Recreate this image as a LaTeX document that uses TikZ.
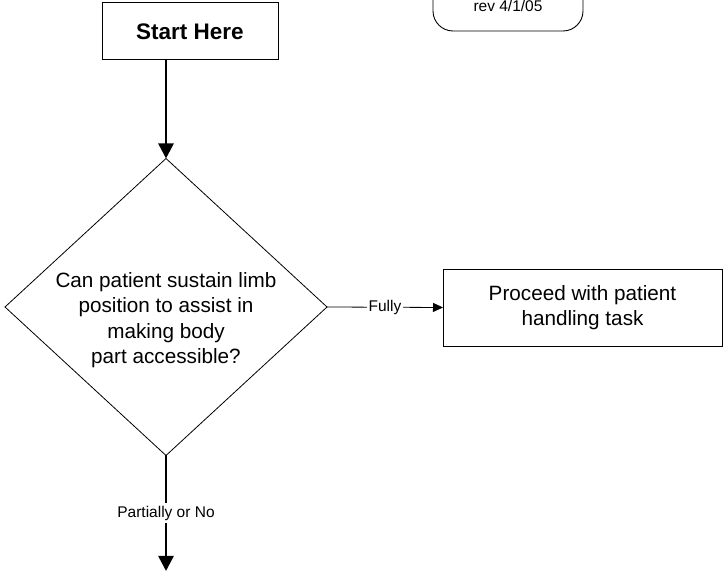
\documentclass[tikz,border=0pt]{standalone}
\usepackage{fontspec}
\setmainfont{Liberation Sans}
\usetikzlibrary{arrows.meta,positioning,shapes.geometric}
\definecolor{flink}{HTML}{000000}
\tikzset{
  box/.style={draw=flink, fill=white, line width=0.9pt, align=center, inner sep=0pt, outer sep=0pt, font=\fontsize{20.7}{25.5}\selectfont},
  startbox/.style={box, line width=1pt, font=\fontsize{22.5}{26}\selectfont\bfseries},
  revbox/.style={draw=flink, rounded corners=20pt, line width=0.9pt, minimum width=150pt, minimum height=51pt},
  dec/.style={diamond, draw=flink, line width=0.8pt, minimum width=322pt, minimum height=297pt, inner sep=0pt, outer sep=0pt},
  lbl/.style={fill=white, inner sep=1.5pt, font=\fontsize{15.5}{18}\selectfont},
  thk/.style={-{Triangle[length=15pt,width=15pt]}, line width=2.6pt, color=flink},
  thn/.style={-{Triangle[length=10pt,width=9pt]}, line width=0.8pt, color=flink},
}

\begin{document}
\begin{tikzpicture}[x=1pt,y=1pt]
  \clip (0,0) rectangle (723,572);
  \node[startbox, minimum width=176pt, minimum height=57pt] (start) at (190,540.5) {Start Here};
  \node[revbox] (rev) at (508,566.5) {};
  \node[lbl, fill=none, anchor=base] (revtxt) at (508,560) {rev 4/1/05};
  \node[dec] (q) at (166,265) {};
  \node[box, draw=none, fill=none] (qtxt) at ([yshift=-13pt]q.center)
    {Can patient sustain limb\\position to assist in\\making body\\part accessible?};
  \node[box, minimum width=279pt, minimum height=77pt] (task) at (582.5,264.5)
    {Proceed with patient\\handling task};
  \coordinate (nxt) at (166,1);

  \draw[thk] (start.south -| q.north) -- (q.north);
  \draw[thn] (q.east) -- node[lbl] {Fully} (task.west);
  \draw[thk] (q.south) -- node[lbl, inner sep=3pt] {Partially or No} (nxt);
\end{tikzpicture}
\end{document}
